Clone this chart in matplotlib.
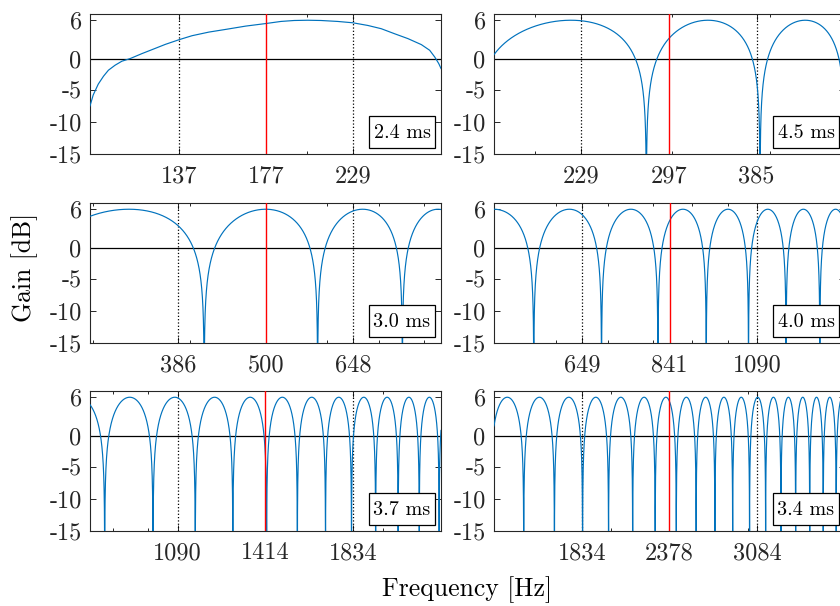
import numpy as np
import matplotlib
matplotlib.use('Agg')
import matplotlib.pyplot as plt
from matplotlib.patches import Rectangle

plt.rcParams.update({
    'font.family': 'cmr10', 'mathtext.fontset': 'cm',
    'axes.unicode_minus': False, 'axes.formatter.use_mathtext': True,
    'axes.linewidth': 0.8, 'axes.edgecolor': '#262626',
    'xtick.color': '#262626', 'ytick.color': '#262626',
})

# panel order: row by row, left then right
delays_ms = [2.4, 4.5, 3.0, 4.0, 3.7, 3.4]
centres = [177, 297, 500, 841, 1414, 2378]
lower_ticks = [137, 229, 386, 649, 1090, 1834]
upper_ticks = [229, 385, 648, 1090, 1834, 3084]
f_lo = [105.2, 177, 297, 500, 841, 1414]
f_hi = [297.3, 500, 841, 1414, 2378, 4000]

# first panel does not follow the comb of the others, so it is read off point by point
p1_freq = [105.2, 106.2, 107.8, 109.5, 111.1, 113.3, 115.6, 118.5, 122.7, 126.4,
           131.5, 137, 142.3, 149.6, 157.2, 166.8, 177, 185.1, 192.5, 200.4,
           208.4, 219, 229, 239.4, 249.1, 259.1, 269.6, 280.5, 287.5, 291.8,
           295.3, 297.3]
p1_gain = [-7.45, -5.73, -4.02, -2.77, -1.83, -1.05, -0.42, 0.0, 0.78, 1.4,
           2.23, 2.97, 3.59, 4.16, 4.58, 5.1, 5.5, 5.83, 5.98, 6.02,
           5.98, 5.83, 5.62, 5.2, 4.69, 3.9, 3.13, 2.19, 1.3, 0.25,
           -0.78, -1.56]

y_ticks = [-15, -10, -5, 0, 6]
y_labels = ['-15', '-10', '-5', '0', '6']

W, H = 840, 606
fig = plt.figure(figsize=(W / 100, H / 100), dpi=100)
col_left = [90, 494]
row_top = [14, 203, 391]
ax_w, ax_h = 351, 140

BLUE = '#0072BD'
for i in range(6):
    r, c = divmod(i, 2)
    ax = fig.add_axes([col_left[c] / W, 1 - (row_top[r] + ax_h) / H, ax_w / W, ax_h / H])
    ax.set_xscale('log')
    if i == 0:
        ax.plot(p1_freq, p1_gain, color=BLUE, lw=0.85, zorder=3)
    else:
        f = np.geomspace(f_lo[i], f_hi[i], 30000)
        comb = np.abs(1 + np.exp(-2j * np.pi * f * 2 * delays_ms[i] / 1000))
        with np.errstate(divide='ignore'):
            g = 10 * np.log10(2 * comb)
        ax.plot(f, g, color=BLUE, lw=0.85, zorder=3)
    ax.axhline(0, color='black', lw=0.9, zorder=2)
    ax.axvline(lower_ticks[i], color='black', ls=':', lw=0.9, zorder=2)
    ax.axvline(upper_ticks[i], color='black', ls=':', lw=0.9, zorder=2)
    ax.axvline(centres[i], color='red', lw=1.0, zorder=4)
    ax.set_xlim(f_lo[i], f_hi[i])
    ax.set_ylim(-15, 7)
    ax.set_xticks([lower_ticks[i], centres[i], upper_ticks[i]])
    ax.set_xticklabels([str(lower_ticks[i]), str(centres[i]), str(upper_ticks[i])])
    minors = [m for m in list(range(100, 1000, 100)) + list(range(1000, 5000, 1000))
              if f_lo[i] < m < f_hi[i]]
    ax.set_xticks(minors, minor=True)
    ax.set_xticklabels([], minor=True)
    ax.set_yticks(y_ticks)
    ax.set_yticklabels(y_labels)
    ax.tick_params(which='both', direction='in', top=True, right=True, labelsize=17.5, pad=8)
    ax.tick_params(which='major', length=4, width=0.7)
    ax.tick_params(which='minor', length=2.5, width=0.7)
    ax.tick_params(axis='y', pad=6)
    # delay label box in the lower right corner
    bx, by, bw, bh = ax_w - 72, 6, 66, 32
    ax.add_patch(Rectangle((bx / ax_w, by / ax_h), bw / ax_w, bh / ax_h, transform=ax.transAxes,
                           fc='white', ec='black', lw=0.9, zorder=5))
    ax.text((bx + bw / 2) / ax_w, (by + bh / 2 - 1) / ax_h, f'{delays_ms[i]:.1f} ms',
            transform=ax.transAxes, ha='center', va='center', fontsize=14.5, zorder=6)

fig.text(25 / W, 1 - 267 / H, 'Gain [dB]', rotation=90, ha='center', va='center', fontsize=18.5)
fig.text(467 / W, 1 - 590 / H, 'Frequency [Hz]', ha='center', va='center', fontsize=18.5)

fig.savefig('out.png', dpi=100)
